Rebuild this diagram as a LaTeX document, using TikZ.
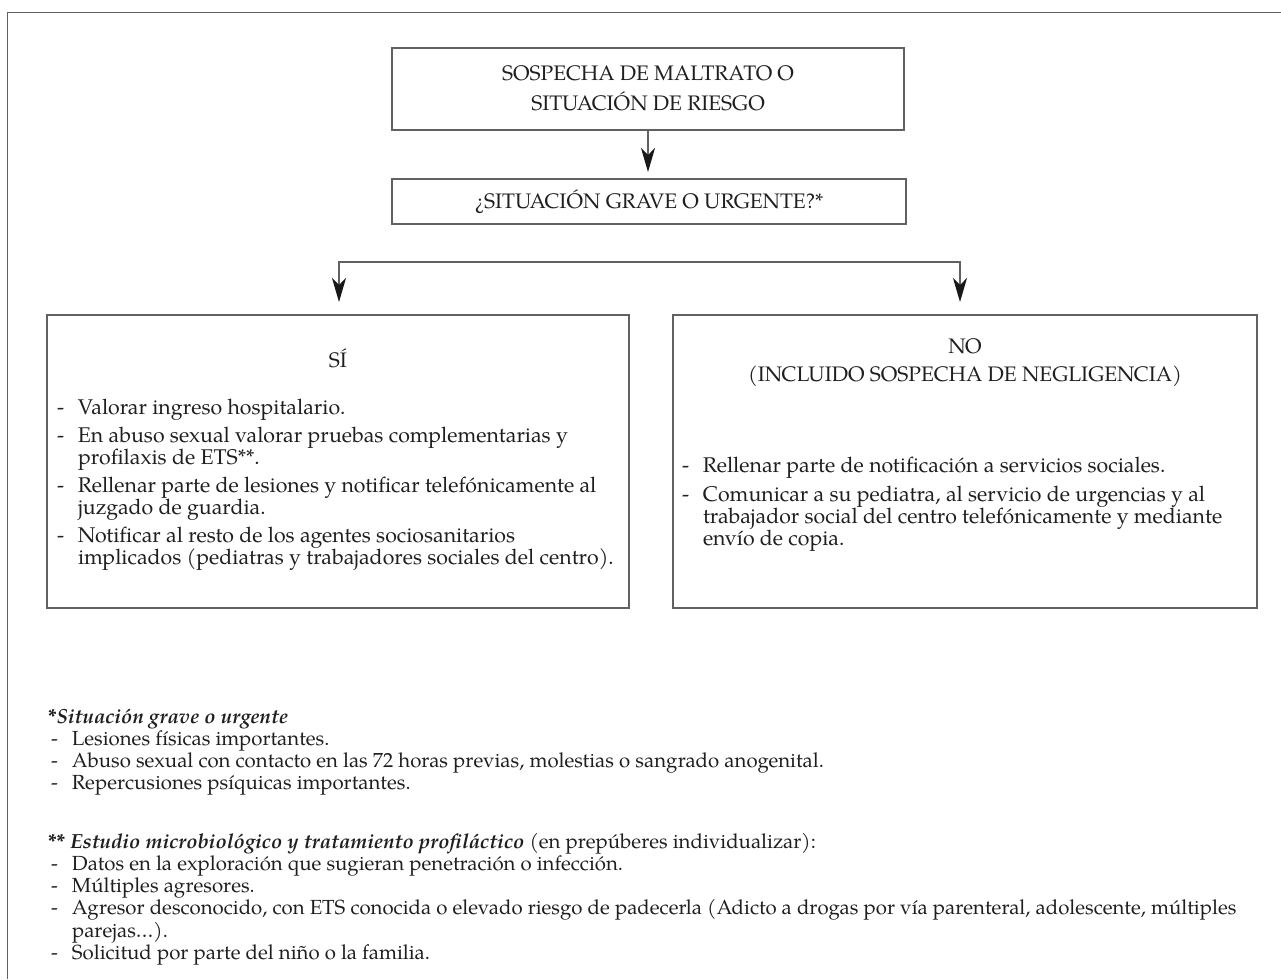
\documentclass[tikz,border=0pt]{standalone}
\usepackage{fontspec}
\setmainfont{TeX Gyre Pagella}
\usetikzlibrary{arrows.meta}
\newcommand\ditem[1]{\makebox[21pt][l]{-}#1}
\newcommand\dcont[1]{\hspace*{21pt}#1}
\newcommand\fl{\rule{0pt}{22pt}}
\begin{document}
\begin{tikzpicture}[x=1pt,y=-1pt,
  every node/.style={inner sep=0pt, outer sep=0pt, text=black!88},
  box/.style={draw=black!62, line width=1.1pt, anchor=north west},
  conn/.style={draw=black!62, line width=1.1pt},
  head/.style={font=\fontsize{21}{30}\selectfont, align=center},
  body/.style={font=\fontsize{21.3}{22}\selectfont, align=left, anchor=north west},
  foot/.style={font=\fontsize{20.4}{22.3}\selectfont, align=left, anchor=north west},
]
\useasboundingbox (0,0) rectangle (1281,979);
\draw[conn] (1281,12.5) -- (7.5,12.5) -- (7.5,979);

\node[box, minimum width=512pt, minimum height=82pt] (top) at (392,48) {};
\node[head] (toptxt) at (648,88) {SOSPECHA DE MALTRATO O\\SITUACIÓN DE RIESGO};
\node[box, minimum width=514pt, minimum height=45pt] (q) at (392,179) {};
\node[head] (qtxt) at (649,202) {¿SITUACIÓN GRAVE O URGENTE?*};

\draw[conn, -{Stealth[length=24pt,width=14pt,inset=7pt,color=black!90]}, shorten >=7pt] (top.south) -- (top.south |- q.north);

\node[box, minimum width=582pt, minimum height=293pt] (si) at (47,315) {};
\node[box, minimum width=584pt, minimum height=293pt] (no) at (673,315) {};
\coordinate (bl) at (339,262);
\coordinate (br) at (960,262);
\draw[conn, {Stealth[length=24pt,width=14pt,inset=7pt,color=black!90]}-{Stealth[length=24pt,width=14pt,inset=7pt,color=black!90]}, shorten <=13pt, shorten >=13pt] (bl |- si.north) -- (bl) -- (br) -- (br |- no.north);

\node[head] (sih) at (338,358) {SÍ};
\node[head, font=\fontsize{21}{28}\selectfont] (noh) at (965,363) {NO\\(INCLUIDO SOSPECHA DE NEGLIGENCIA)};

\node[body] (silist) at (57,392) {\fl\ditem{Valorar ingreso hospitalario.}\\[6pt]
\ditem{En abuso sexual valorar pruebas complementarias y}\\
\dcont{profilaxis de ETS**.}\\[6pt]
\ditem{Rellenar parte de lesiones y notificar telefónicamente al}\\
\dcont{juzgado de guardia.}\\[6pt]
\ditem{Notificar al resto de los agentes sociosanitarios}\\
\dcont{implicados (pediatras y trabajadores sociales del centro).}};

\node[body] (nolist) at (682,450) {\fl\ditem{Rellenar parte de notificación a servicios sociales.}\\[7pt]
\ditem{Comunicar a su pediatra, al servicio de urgencias y al}\\
\dcont{trabajador social del centro telefónicamente y mediante}\\
\dcont{envío de copia.}};

\node[foot] (f1) at (48,701) {\fl{\bfseries\itshape *Situación grave o urgente}\\
\hspace*{3pt}\ditem{Lesiones físicas importantes.}\\
\hspace*{3pt}\ditem{Abuso sexual con contacto en las 72 horas previas, molestias o sangrado anogenital.}\\
\hspace*{3pt}\ditem{Repercusiones psíquicas importantes.}};

\node[foot] (f2) at (48,826) {\fl{\bfseries\itshape ** Estudio microbiológico y tratamiento profiláctico} (en prepúberes individualizar):\\
\hspace*{3pt}\ditem{Datos en la exploración que sugieran penetración o infección.}\\
\hspace*{3pt}\ditem{Múltiples agresores.}\\
\hspace*{3pt}\ditem{Agresor desconocido, con ETS conocida o elevado riesgo de padecerla (Adicto a drogas por vía parenteral, adolescente, múltiples}\\
\hspace*{3pt}\dcont{parejas…).}\\
\hspace*{3pt}\ditem{Solicitud por parte del niño o la familia.}};
\end{tikzpicture}
\end{document}
